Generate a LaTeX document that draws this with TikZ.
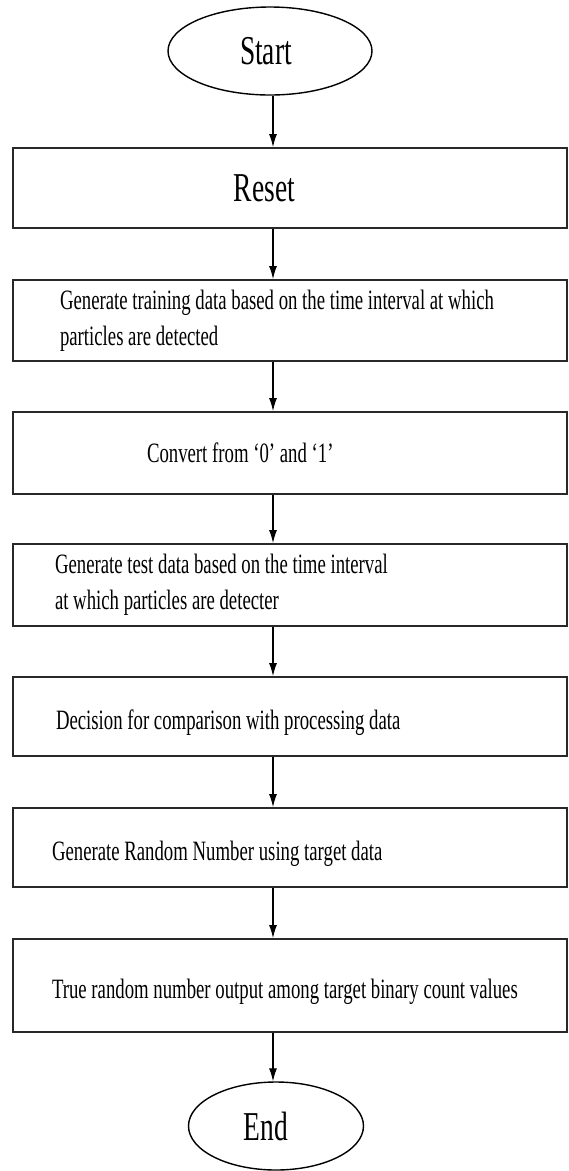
\documentclass[tikz,border=0pt]{standalone}
\usepackage{fontspec}
\setmainfont{Liberation Serif}[FakeStretch=0.67]
\usetikzlibrary{arrows.meta,shapes.geometric}
\definecolor{boxline}{RGB}{40,40,40}

\begin{document}
\begin{tikzpicture}[x=1pt, y=-1pt,
      terminal/.style={ellipse, draw=black, line width=1.4pt, inner sep=0pt, minimum height=88pt, font=\fontsize{41pt}{44pt}\selectfont},
      stepbox/.style={draw=boxline, line width=1.8pt, minimum width=554pt, text width=540pt, inner xsep=7pt, align=flush left, font=\fontsize{28pt}{36pt}\selectfont},
      lowtext/.style={text height=25pt, text depth=0pt},
      flow/.style={-{Latex[length=13pt,width=8pt]}, line width=1.2pt}
    ]
  \useasboundingbox (0,0) rectangle (569,1171);
  \fill[white] (0,0) rectangle (569,1171);
  \coordinate (spine) at (273,0);

  \node[terminal, minimum width=204pt] (start) at (270,51) {\hspace*{-8pt}Start};

  \node[stepbox, minimum height=80pt, text depth=0pt, font=\fontsize{41pt}{44pt}\selectfont] (reset) at (290,188) {\hspace*{214pt}Reset};

  \node[stepbox, minimum height=81pt] (train) at (290,320.5) {\hspace*{40pt}Generate training data based on the time interval at which\\
    \hspace*{40pt}particles are detected};

  \node[stepbox, minimum height=82pt, text depth=0pt] (convert) at (290,453) {\hspace*{127pt}Convert from ‘0’ and ‘1’};

  \node[stepbox, minimum height=82pt] (test) at (290,585) {\hspace*{35pt}Generate test data based on the time interval\\
    \hspace*{35pt}at which particles are detecter};

  \node[stepbox, lowtext, minimum height=79pt] (decide) at (290,716.5) {\hspace*{36pt}Decision for comparison with processing data};

  \node[stepbox, lowtext, minimum height=79pt] (random) at (290,847.5) {\hspace*{32pt}Generate Random Number using target data};

  \node[stepbox, lowtext, minimum height=93pt] (output) at (290,985.5) {\hspace*{32pt}True random number output among target binary count values};

  \node[terminal, minimum width=175pt] (end) at (276,1126) {\hspace*{-20pt}End};

  % arrows down the chart
  \draw[flow] (start.south -| spine) -- (reset.north -| spine);
  \draw[flow] (reset.south -| spine) -- (train.north -| spine);
  \draw[flow] (train.south -| spine) -- (convert.north -| spine);
  \draw[flow] (convert.south -| spine) -- (test.north -| spine);
  \draw[flow] (test.south -| spine) -- (decide.north -| spine);
  \draw[flow] (decide.south -| spine) -- (random.north -| spine);
  \draw[flow] (random.south -| spine) -- (output.north -| spine);
  \draw[flow] (output.south -| spine) -- (end.north -| spine);
\end{tikzpicture}
\end{document}
